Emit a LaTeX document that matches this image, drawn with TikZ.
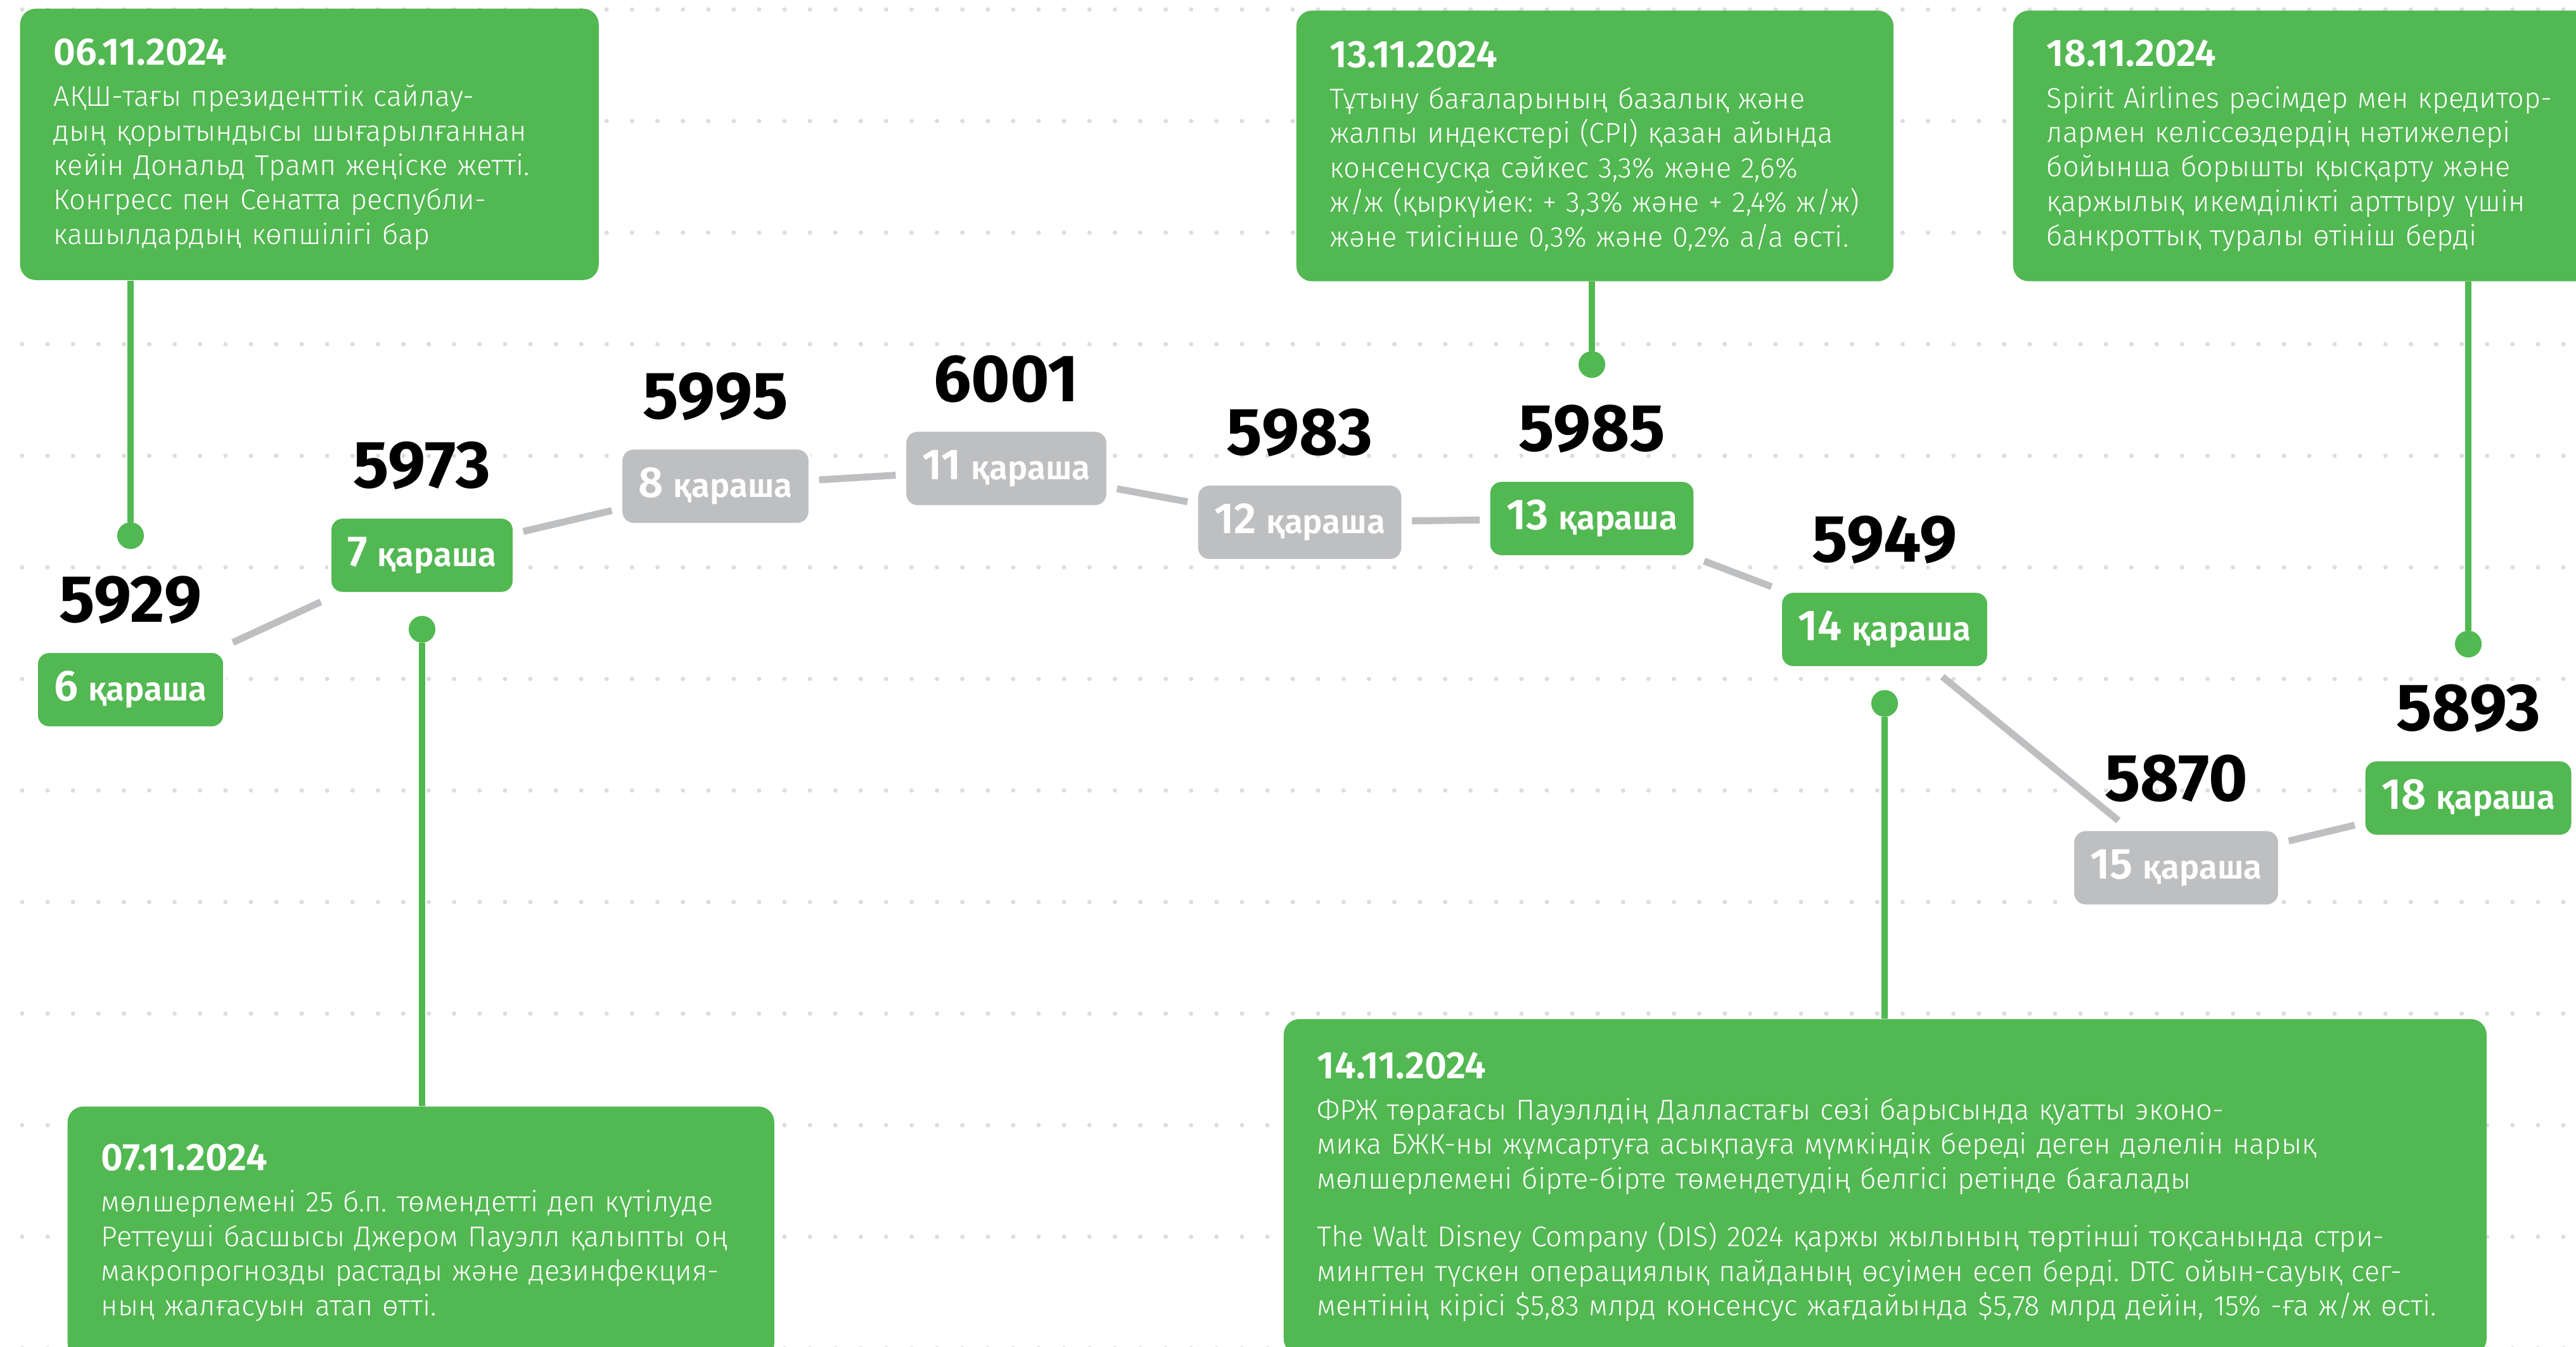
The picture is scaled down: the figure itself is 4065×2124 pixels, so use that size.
\documentclass[tikz,border=0pt]{standalone}
\usepackage{fontspec}
\usepackage{tikz}
\usetikzlibrary{positioning}

\newfontfamily\firasans{Fira Sans}
\IfFontExistsTF{Fira Sans Light}{\newfontfamily\txtfont{Fira Sans Light}}{\let\txtfont\firasans}
\IfFontExistsTF{Fira Sans SemiBold}{\newfontfamily\dayfont{Fira Sans SemiBold}}{\def\dayfont{\firasans\bfseries}}
\newcommand\valfont{\firasans\bfseries}
\newcommand\datestyle{\dayfont\fontsize{17.2}{17.2}\selectfont}
\newcommand\daynum[1]{{\fontsize{19.5}{20}\selectfont #1}\hspace{0.3em}қараша}
\frenchspacing

\definecolor{mgreen}{RGB}{82,184,82}
\definecolor{mgrey}{RGB}{190,191,193}
\definecolor{dotgrey}{RGB}{221,221,221}

\tikzset{
  day/.style={rectangle, rounded corners=5.7pt, fill=#1, draw=white, line width=1.5pt,
    text=white, minimum height=34.4pt, inner xsep=8pt, inner ysep=0pt, outer sep=4pt,
    font=\dayfont\fontsize{15}{18}\selectfont},
  val/.style={inner sep=0pt, text=black, font=\valfont\fontsize{30}{31}\selectfont},
  pin/.style={circle, fill=mgreen, minimum size=12pt, inner sep=0pt, outer sep=0pt},
  event/.style={rectangle, rounded corners=7pt, fill=mgreen, text=white, anchor=north west,
    align=left, inner xsep=15.1pt, inner ysep=0pt,
    font=\txtfont\fontsize{12.8}{15.5}\selectfont},
  link/.style={draw=mgrey, line width=3.1pt},
  stem/.style={draw=mgreen, line width=2.85pt}
}

\begin{document}
\begin{tikzpicture}[x=0.1mm, y=-0.1mm]
  \useasboundingbox (0,0) rectangle (4065,2124);
  \clip (0,0) rectangle (4065,2124);

  % dotted background
  \foreach \r in {0,...,12}
    \foreach \c in {0,...,100}
      \fill[dotgrey] (35+40.1*\c, 15+176*\r) circle[radius=1pt];

  % days
  \node[day=mgreen] (d06) at (206,1088) {\daynum{6}};
  \node[day=mgreen] (d07) at (666,876) {\daynum{7}};
  \node[day=mgrey] (d08) at (1129,767) {\daynum{8}};
  \node[day=mgrey] (d11) at (1588,739) {\daynum{11}};
  \node[day=mgrey] (d12) at (2051,824) {\daynum{12}};
  \node[day=mgreen] (d13) at (2512,818) {\daynum{13}};
  \node[day=mgreen] (d14) at (2974,993) {\daynum{14}};
  \node[day=mgrey] (d15) at (3434,1369) {\daynum{15}};
  \node[day=mgreen] (d18) at (3895,1259) {\daynum{18}};

  % index values
  \node[val, above=8pt of d06] (v06) {5929};
  \node[val, above=8pt of d07] (v07) {5973};
  \node[val, above=8pt of d08] (v08) {5995};
  \node[val, above=8pt of d11] (v11) {6001};
  \node[val, above=8pt of d12] (v12) {5983};
  \node[val, above=8pt of d13] (v13) {5985};
  \node[val, above=8pt of d14] (v14) {5949};
  \node[val, above=8pt of d15] (v15) {5870};
  \node[val, above=8pt of d18] (v18) {5893};

  \foreach \a/\b in {d06/d07, d07/d08, d08/d11, d11/d12, d12/d13, d13/d14, d14/d15, d15/d18}
    \draw[link] (\a) -- (\b);

  % pins
  \node[pin, above=12pt of v06] (p06) {};
  \node[pin, below=6pt of d07] (p07) {};
  \node[pin, above=12pt of v13] (p13) {};
  \node[pin, below=6pt of d14] (p14) {};
  \node[pin, above=12pt of v18] (p18) {};

  % events
  \node[event, text width=229.6pt, minimum height=121.8pt] (e06) at (31,13) {%
    {\datestyle 06.11.2024}\\[3pt]
    АҚШ-тағы президенттік сайлау-\\
    дың қорытындысы шығарылғаннан\\
    кейін Дональд Трамп жеңіске жетті.\\
    Конгресс пен Сенатта республи-\\
    кашылдардың көпшілігі бар};
  \node[event, text width=237.9pt, minimum height=121.5pt] (e13) at (2045,16) {%
    {\datestyle 13.11.2024}\\[3pt]
    Тұтыну бағаларының базалық және\\
    жалпы индекстері (CPI) қазан айында\\
    консенсусқа сәйкес 3,3\% және 2,6\%\\
    ж/ж (қыркүйек: + 3,3\% және + 2,4\% ж/ж)\\
    және тиісінше 0,3\% және 0,2\% а/а өсті.};
  \node[event, text width=234.4pt, minimum height=121.5pt] (e18) at (3176,16) {%
    {\datestyle 18.11.2024}\\[3pt]
    Spirit Airlines рәсімдер мен кредитор-\\
    лармен келіссөздердің нәтижелері\\
    бойынша борышты қысқарту және\\
    қаржылық икемділікті арттыру үшін\\
    банкроттық туралы өтініш берді};
  \node[event, text width=287.1pt, minimum height=113.2pt] (e07) at (106,1745) {%
    {\datestyle 07.11.2024}\\[3pt]
    мөлшерлемені 25 б.п. төмендетті деп күтілуде\\
    Реттеуші басшысы Джером Пауэлл қалыпты оң\\
    макропрогнозды растады және дезинфекция-\\
    ның жалғасуын атап өтті.};
  \node[event, text width=509.9pt, minimum height=150.5pt] (e14) at (2025,1607) {%
    {\datestyle 14.11.2024}\\[3pt]
    ФРЖ төрағасы Пауэллдің Далластағы сөзі барысында қуатты эконо-\\
    мика БЖК-ны жұмсартуға асықпауға мүмкіндік береді деген дәлелін нарық\\
    мөлшерлемені бірте-бірте төмендетудің белгісі ретінде бағалады\\[10.5pt]
    The Walt Disney Company (DIS) 2024 қаржы жылының төртінші тоқсанында стри-\\
    мингтен түскен операциялық пайданың өсуімен есеп берді. DTC ойын-сауық сег-\\
    ментінің кірісі \$5,83 млрд консенсус жағдайында \$5,78 млрд дейін, 15\% -ға ж/ж өсті.};

  % stems
  \draw[stem] (p06) -- (p06 |- e06.south);
  \draw[stem] (p07) -- (p07 |- e07.north);
  \draw[stem] (p13) -- (p13 |- e13.south);
  \draw[stem] (p14) -- (p14 |- e14.north);
  \draw[stem] (p18) -- (p18 |- e18.south);
\end{tikzpicture}
\end{document}
